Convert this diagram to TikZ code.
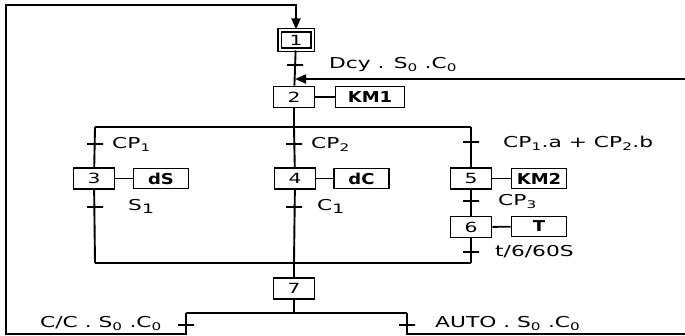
\documentclass[tikz,border=0pt]{standalone}
\usepackage{fontspec}
\setmainfont{DejaVu Sans}[FakeStretch=1.45]
\newfontfamily\boxfont{DejaVu Sans}[FakeStretch=1.2]
\usetikzlibrary{arrows.meta}
\newcommand{\sbs}[1]{\textsubscript{#1}}
\newcommand{\bsub}[1]{\raisebox{-3pt}{\fontsize{13}{13}\selectfont #1}}
\tikzset{
  ln/.style={line width=1.9pt},
  arr/.style={ln,-{Triangle[length=11pt,width=9pt]}},
  stepbox/.style={draw,ln,minimum width=41pt,minimum height=21pt,inner sep=0pt,font=\fontsize{14}{16}\selectfont},
  initbox/.style={draw,line width=1.5pt,double,double distance=2pt,minimum width=33pt,minimum height=19.5pt,inner sep=0pt,font=\fontsize{14}{16}\selectfont},
  actbox/.style={draw,ln,minimum width=55pt,minimum height=20pt,inner sep=0pt,font=\fontsize{15}{17}\boxfont\bfseries},
  tick/.style={draw,ln,minimum width=16pt,minimum height=0pt,inner sep=0pt},
  lbl/.style={anchor=base west,inner sep=0pt,font=\fontsize{15}{17}\selectfont}
}
\begin{document}
\begin{tikzpicture}[x=1pt,y=-1pt]
\useasboundingbox (0,0) rectangle (685,336);
% steps
\node[initbox] (s1) at (296,40) {1};
\node[stepbox] (s2) at (294,97) {2};
\node[actbox,minimum width=69pt,minimum height=21pt] (a2) at (370,97) {KM1};
\node[stepbox] (s3) at (94,178.5) {3};
\node[actbox] (a3) at (161,178.5) {dS};
\node[stepbox] (s4) at (295,178.5) {4};
\node[actbox] (a4) at (361.5,178.5) {dC};
\node[stepbox] (s5) at (471,178.5) {5};
\node[actbox] (a5) at (539,178.5) {KM2};
\node[stepbox] (s6) at (471,227) {6};
\node[actbox] (a6) at (539,226.5) {T};
\node[stepbox] (s7) at (294,288.5) {7};
% coordinates
\coordinate (cTL) at (6,5);
\coordinate (cBL) at (6,334);
\coordinate (cBR) at (686,334);
\coordinate (inR) at (686,79);
\coordinate (j2) at (295,79);
\coordinate (dL) at (95,127);
\coordinate (dM) at (294,127);
\coordinate (dR) at (471,127);
\coordinate (eL) at (95,263);
\coordinate (eM) at (294,263);
\coordinate (eR) at (471,263);
\coordinate (fL) at (186,313);
\coordinate (fM) at (294,313);
\coordinate (fR) at (407,313);
% connectors
\draw[ln] (s1) -- (s2);
\draw[arr] (inR) -- (j2);
\draw[ln] (s2) -- (a2);
\draw[ln] (s2) -- (dM);
\draw[ln] (dL) -- (dR);
\draw[ln] (dL) -- (s3);
\draw[ln] (dM) -- (s4);
\draw[ln] (dR) -- (s5);
\draw[ln] (s3) -- (a3);
\draw[ln] (s4) -- (a4);
\draw[ln] (s5) -- (a5);
\draw[ln] (s6) -- (a6);
\draw[ln] (s5) -- (s6);
\draw[ln] (s3) -- (eL);
\draw[ln] (s4) -- (eM);
\draw[ln] (s6) -- (eR);
\draw[ln] (eL) -- (eR);
\draw[ln] (eM) -- (s7);
\draw[ln] (s7) -- (fM);
\draw[ln] (fL) -- (fR);
\draw[arr] (fL) |- (cBL) -- (cTL) -| (s1.north);
\draw[ln] (fR) |- (cBR);
% transitions
\node[tick] (t1) at (295,65) {};
\node[tick] (t3) at (95,144) {};
\node[tick] (t4) at (294,144) {};
\node[tick] (t5) at (471,142) {};
\node[tick] (t3b) at (95,207) {};
\node[tick] (t4b) at (294,207) {};
\node[tick] (t5b) at (471,201) {};
\node[tick] (t6b) at (471,252) {};
\node[tick] (t7L) at (186,325) {};
\node[tick] (t7R) at (407,325) {};
% labels
\node[lbl] (l1) at (329,69) {Dcy . S\sbs{0} .C\sbs{0}};
\node[lbl] (l3) at (112,149) {CP\sbs{1}};
\node[lbl] (l4) at (311,149) {CP\sbs{2}};
\node[lbl] (l5) at (503,148) {CP\sbs{1}.a + CP\sbs{2}.b};
\node[lbl] (l3b) at (128,211) {S\bsub{1}};
\node[lbl] (l4b) at (317,211) {C\bsub{1}};
\node[lbl] (l5b) at (498,206) {CP\sbs{3}};
\node[lbl] (l6b) at (495,257) {t/6/60S};
\node[lbl] (l7L) at (40,328) {C/C . S\sbs{0} .C\sbs{0}};
\node[lbl] (l7R) at (435,328) {AUTO . S\sbs{0} .C\sbs{0}};
\end{tikzpicture}
\end{document}
